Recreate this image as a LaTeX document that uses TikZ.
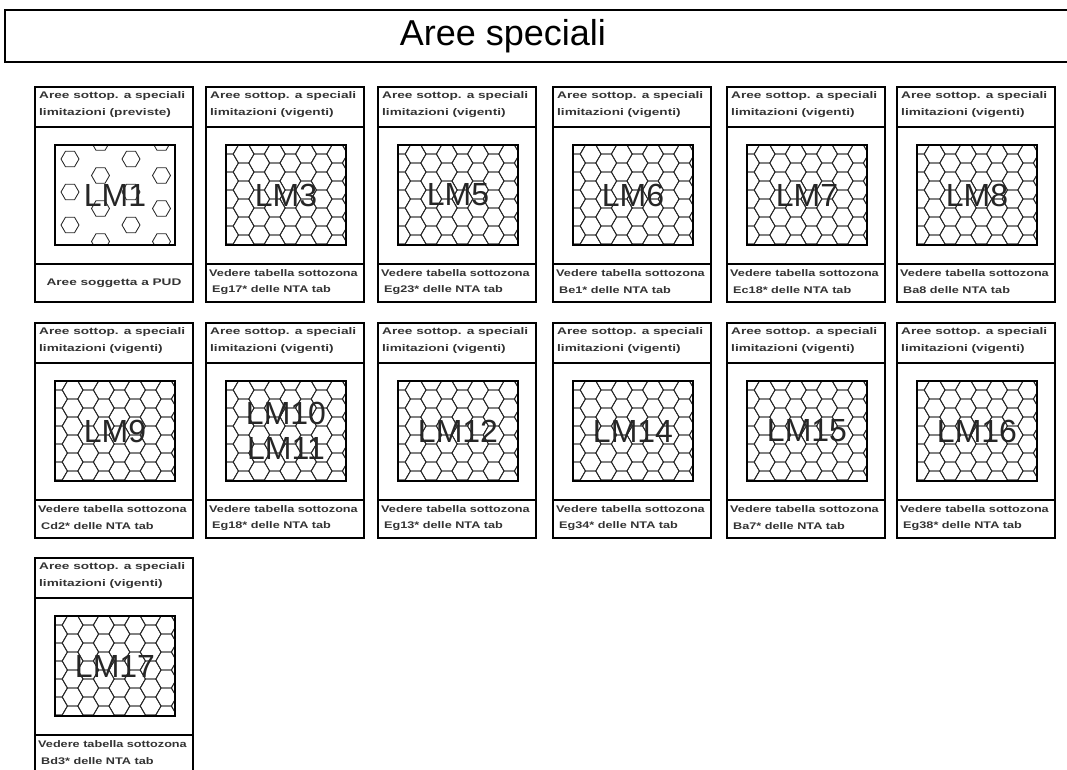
\documentclass[tikz,border=0pt]{standalone}
\usepackage{fontspec}
\setmainfont{Liberation Sans}
\newfontfamily\schedafont[FakeStretch=1.42, BoldFeatures={FakeStretch=1.42}]{Liberation Sans}
\newfontfamily\piedefont[FakeStretch=1.32, BoldFeatures={FakeStretch=1.32}]{Liberation Sans}

\begin{document}
\begin{tikzpicture}[x=1pt, y=-1pt,
    scheda/.style={draw=black, line width=1.3pt},
    riquadro/.style={draw=black, line width=1.8pt},
    favo/.style={draw=black!85, line width=0.85pt},
    testa/.style={font=\schedafont\bfseries\fontsize{9.6}{11}\selectfont, anchor=west, inner sep=0pt, text=black!80},
    piede/.style={font=\piedefont\bfseries\fontsize{9.6}{11}\selectfont, anchor=west, inner sep=0pt, text=black!80},
    sigla/.style={font=\fontsize{32}{35}\selectfont, align=center, inner sep=0pt, text=black!85}]
    \useasboundingbox (0,0) rectangle (1067,769);

    % --- titolo ---
    \draw[line width=1.8pt] (5,10) rectangle (1075,62);
    \node[font=\fontsize{36}{40}\selectfont, inner sep=0pt] (titolo) at (503,36) {Aree speciali};

    % --- scheda LM1 (prevista, retino rado) ---
    \def\X{35} \def\Y{87}
    \draw[scheda] (\X,\Y) rectangle ++(158,215);
    \draw[scheda] (\X,\Y+40) -- ++(158,0);
    \draw[scheda] (\X,\Y+177) -- ++(158,0);
    \begin{scope}
      \clip (\X+20,\Y+58) rectangle ++(120,100);
      \foreach \i in {0,...,3}
        \foreach \j in {-1,...,3} {
          \pgfmathsetmacro\hx{\X+35+\i*30.5}
          \pgfmathsetmacro\hy{\Y+72+\j*33-mod(\i,2)*16.5}
          \draw[favo] (\hx,\hy) +(0:9) -- +(60:9) -- +(120:9) -- +(180:9)
            -- +(240:9) -- +(300:9) -- cycle;
        }
    \end{scope}
    \draw[riquadro] (\X+20,\Y+58) rectangle ++(120,100);
    \node[sigla] (lm1) at (\X+80,\Y+108) {LM1};
    \node[testa] (ta1) at (\X+4,\Y+9) {Aree sottop. a speciali};
    \node[testa] (tb1) at (\X+4,\Y+26) {limitazioni (previste)};
    \node[testa, anchor=center] (pa1) at (\X+79,\Y+196) {Aree soggetta a PUD};

    % --- schede vigenti ---
    \foreach \n/\X/\Y/\lbl/\cod in {
        2/206/87/LM3/Eg17*, 3/378/87/LM5/Eg23*, 4/553/87/LM6/Be1*,
        5/727/87/LM7/Ec18*, 6/897/87/LM8/Ba8,
        7/35/323/LM9/Cd2*, 8/206/323/{LM10\\LM11}/Eg18*, 9/378/323/LM12/Eg13*,
        10/553/323/LM14/Eg34*, 11/727/323/LM15/Ba7*, 12/897/323/LM16/Eg38*,
        13/35/558/LM17/Bd3*} {
      \draw[scheda] (\X,\Y) rectangle ++(158,215);
      \draw[scheda] (\X,\Y+40) -- ++(158,0);
      \draw[scheda] (\X,\Y+177) -- ++(158,0);
      % retino a nido d'ape
      \begin{scope}
        \clip (\X+20,\Y+58) rectangle ++(120,100);
        \foreach \i in {0,...,8}
          \foreach \j in {-1,...,6} {
            \pgfmathsetmacro\hx{\X+22+\i*15.6}
            \pgfmathsetmacro\hy{\Y+58+\j*18+mod(\i,2)*9}
            \draw[favo] (\hx,\hy) +(0:10.4) -- +(60:10.4) -- +(120:10.4) -- +(180:10.4)
              -- +(240:10.4) -- +(300:10.4) -- cycle;
          }
      \end{scope}
      \draw[riquadro] (\X+20,\Y+58) rectangle ++(120,100);
      \node[sigla] (lm\n) at (\X+80,\Y+108) {\lbl};
      \node[testa] (ta\n) at (\X+4,\Y+9) {Aree sottop. a speciali};
      \node[testa] (tb\n) at (\X+4,\Y+26) {limitazioni (vigenti)};
      \node[piede] (pa\n) at (\X+3,\Y+186) {Vedere tabella sottozona};
      \node[piede] (pb\n) at (\X+6,\Y+203) {\cod{} delle NTA tab};
    }
\end{tikzpicture}
\end{document}
